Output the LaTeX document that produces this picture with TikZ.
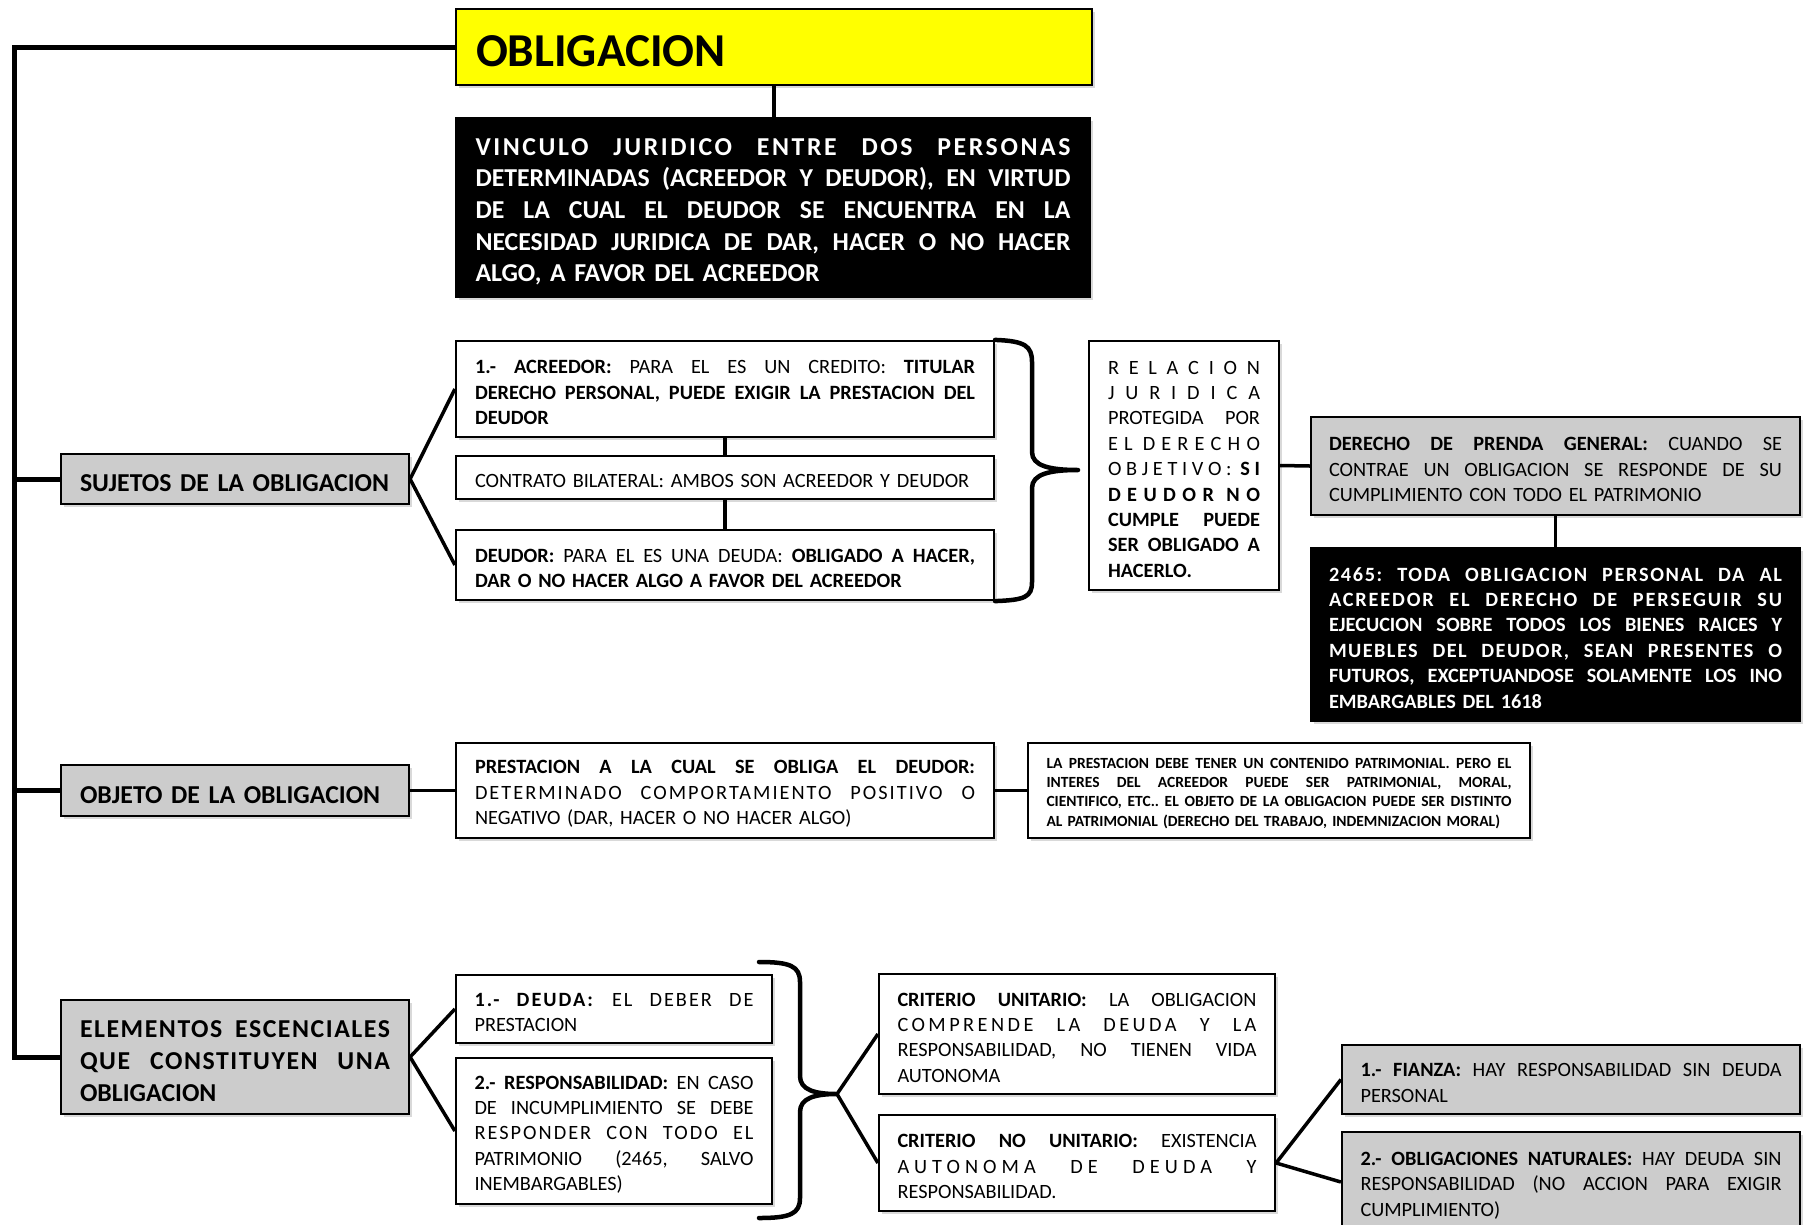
\documentclass[tikz,border=0pt]{standalone}
\usepackage{fontspec}
\setmainfont{Carlito}
\usetikzlibrary{shadows}
\definecolor{boxgray}{RGB}{204,204,204}
\definecolor{boxyellow}{RGB}{255,255,0}
\newcommand\boxW{500pt}
\newcommand\jline[1]{\leavevmode\hbox to\boxW{\spaceskip=0.226em plus 1fil\relax\xspaceskip=\spaceskip #1}}
\newcommand\tline[2]{\leavevmode\hbox to\boxW{\addfontfeature{LetterSpace=#1}\spaceskip=0.226em plus 1fil\relax\xspaceskip=\spaceskip #2}}
\tikzset{
  bx/.style={draw=black, line width=2.2pt, inner sep=0pt, align=left, fill=white,
    drop shadow={shadow xshift=2.5pt, shadow yshift=-2.5pt, opacity=0.3}},
  tw/.style={text width=#1pt, execute at begin node={\def\boxW{#1pt}}},
  graybx/.style={bx, fill=boxgray},
  blackbx/.style={bx, fill=black, text=white},
  body/.style={font=\fontsize{20.3}{25.4}\selectfont, execute at begin node={\rule{0pt}{20.5pt}}},
  bodyb/.style={font=\fontsize{20.3}{25.4}\selectfont\bfseries, execute at begin node={\rule{0pt}{20.5pt}}},
  bigb/.style={font=\fontsize{25.8}{31.7}\selectfont\bfseries, execute at begin node={\rule{0pt}{25.5pt}}},
  conn/.style={line width=3.5pt},
  trunk/.style={line width=5pt},
  bracepath/.style={line width=4.5pt, line cap=round, line join=round},
}
\begin{document}
\frenchspacing\hyphenpenalty=10000
\begin{tikzpicture}[x=1pt, y=-1pt]
\useasboundingbox (0,0) rectangle (1807,1224);

% --- top ---
\node[bx, fill=boxyellow, minimum width=636, minimum height=76, tw=596,
  font=\fontsize{47.2}{50}\selectfont\bfseries, execute at begin node={\rule{0pt}{39pt}}] (obl) at (774,47) {OBLIGACION};
\node[blackbx, bigb, minimum width=634, minimum height=179, tw=595] (def) at (773,207.5)
 {\tline{10}{VINCULO JURIDICO ENTRE DOS PERSONAS}\\
  \jline{DETERMINADAS (ACREEDOR Y DEUDOR), EN VIRTUD}\\
  \jline{DE LA CUAL EL DEUDOR SE ENCUENTRA EN LA}\\
  \jline{NECESIDAD JURIDICA DE DAR, HACER O NO HACER}\\
  ALGO, A FAVOR DEL ACREEDOR};

% --- sujetos ---
\node[graybx, bigb, minimum width=348, minimum height=50, tw=310] (suj) at (235,479)
 {\mbox{SUJETOS DE LA OBLIGACION}};
\node[bx, body, minimum width=538, minimum height=96, tw=500] (acr) at (725,389)
 {\jline{\textbf{1.- ACREEDOR:} PARA EL ES UN CREDITO: \textbf{TITULAR}}\\
  \jline{\textbf{DERECHO PERSONAL, PUEDE EXIGIR LA PRESTACION DEL}}\\
  \textbf{DEUDOR}};
\node[bx, body, minimum width=538, minimum height=43, tw=500] (con) at (725,477.5)
 {\mbox{CONTRATO BILATERAL: AMBOS SON ACREEDOR Y DEUDOR}};
\node[bx, body, minimum width=538, minimum height=70, tw=500] (deu) at (725,565)
 {\jline{\textbf{DEUDOR:} PARA EL ES UNA DEUDA: \textbf{OBLIGADO A HACER,}}\\
  \textbf{DAR O NO HACER ALGO A FAVOR DEL ACREEDOR}};
\node[bx, body, minimum width=190, minimum height=249, tw=152] (rel) at (1184,465.5)
 {\jline{R\hfil E\hfil L\hfil A\hfil C\hfil I\hfil O\hfil N}\\
  \jline{J\hfil U\hfil R\hfil I\hfil D\hfil I\hfil C\hfil A}\\
  \jline{PROTEGIDA POR}\\
  \jline{E\hfil L\hfil\hskip 4pt D\hfil E\hfil R\hfil E\hfil C\hfil H\hfil O}\\
  \jline{O\hfil B\hfil J\hfil E\hfil T\hfil I\hfil V\hfil O\hfil :\hfil\hskip 4pt\textbf{S\hfil I}}\\
  \jline{\textbf{D\hfil E\hfil U\hfil D\hfil O\hfil R\hfil\hskip 6pt N\hfil O}}\\
  \jline{\textbf{CUMPLE PUEDE}}\\
  \jline{\textbf{SER OBLIGADO A}}\\
  \textbf{HACERLO.}};
\node[graybx, body, minimum width=489, minimum height=98, tw=453] (pre) at (1555.5,466)
 {\jline{\textbf{DERECHO DE PRENDA GENERAL:} CUANDO SE}\\
  \jline{CONTRAE UN OBLIGACION SE RESPONDE DE SU}\\
  CUMPLIMIENTO CON TODO EL PATRIMONIO};
\node[blackbx, bodyb, minimum width=489, minimum height=173, tw=453] (art) at (1555.5,634.5)
 {\tline{8}{2465: TODA OBLIGACION PERSONAL DA AL}\\
  \tline{9}{ACREEDOR EL DERECHO DE PERSEGUIR SU}\\
  \jline{EJECUCION SOBRE TODOS LOS BIENES RAICES Y}\\
  \tline{7}{MUEBLES DEL DEUDOR, SEAN PRESENTES O}\\
  \jline{FUTUROS, EXCEPTUANDOSE SOLAMENTE LOS INO}\\
  EMBARGABLES DEL 1618};

% --- objeto ---
\node[graybx, bigb, minimum width=348, minimum height=51, tw=310] (obj) at (235,790.5)
 {\mbox{OBJETO DE LA OBLIGACION}};
\node[bx, body, minimum width=538, minimum height=95, tw=500] (prest) at (725,790.5)
 {\jline{\textbf{PRESTACION A LA CUAL SE OBLIGA EL DEUDOR:}}\\
  \tline{10}{DETERMINADO COMPORTAMIENTO POSITIVO O}\\
  NEGATIVO (DAR, HACER O NO HACER ALGO)};
\node[bx, font=\fontsize{15.5}{19.2}\selectfont\bfseries, execute at begin node={\rule{0pt}{16pt}},
  minimum width=502, minimum height=95, tw=465] (pat) at (1279,790.5)
 {\jline{LA PRESTACION DEBE TENER UN CONTENIDO PATRIMONIAL. PERO EL}\\
  \jline{INTERES DEL ACREEDOR PUEDE SER PATRIMONIAL, MORAL,}\\
  \jline{CIENTIFICO, ETC.. EL OBJETO DE LA OBLIGACION PUEDE SER DISTINTO}\\
  AL PATRIMONIAL (DERECHO DEL TRABAJO, INDEMNIZACION MORAL)};

% --- elementos ---
\node[graybx, bigb, minimum width=348, minimum height=114, tw=310] (ele) at (235,1057)
 {\tline{6}{ELEMENTOS ESCENCIALES}\\
  \tline{6}{QUE CONSTITUYEN UNA}\\
  OBLIGACION};
\node[bx, body, minimum width=316, minimum height=68, tw=279] (dda) at (614,1009)
 {\tline{10}{\textbf{1.- DEUDA:} EL DEBER DE}\\
  PRESTACION};
\node[bx, body, minimum width=316, minimum height=146, tw=279] (res) at (614,1131)
 {\jline{\textbf{2.- RESPONSABILIDAD:} EN CASO}\\
  \jline{DE INCUMPLIMIENTO SE DEBE}\\
  \tline{10}{RESPONDER CON TODO EL}\\
  \jline{PATRIMONIO (2465, SALVO}\\
  INEMBARGABLES)};
\node[bx, body, minimum width=396, minimum height=120, tw=359] (cu) at (1077,1034)
 {\jline{\textbf{CRITERIO UNITARIO:} LA OBLIGACION}\\
  \tline{17}{COMPRENDE LA DEUDA Y LA}\\
  \jline{RESPONSABILIDAD, NO TIENEN VIDA}\\
  AUTONOMA};
\node[bx, body, minimum width=396, minimum height=96, tw=359] (cnu) at (1077,1163)
 {\jline{\textbf{CRITERIO NO UNITARIO:} EXISTENCIA}\\
  \tline{25}{AUTONOMA DE DEUDA Y}\\
  RESPONSABILIDAD.};
\node[graybx, body, minimum width=458, minimum height=69, tw=421] (fia) at (1571,1079.5)
 {\jline{\textbf{1.- FIANZA:} HAY RESPONSABILIDAD SIN DEUDA}\\
  PERSONAL};
\node[graybx, body, minimum width=458, minimum height=100, tw=421] (nat) at (1571,1182)
 {\jline{\textbf{2.- OBLIGACIONES NATURALES:} HAY DEUDA SIN}\\
  \jline{RESPONSABILIDAD (NO ACCION PARA EXIGIR}\\
  CUMPLIMIENTO)};

% --- connectors ---
\coordinate (tTop) at (14,47);
\coordinate (tBot) at (14,1057);
\draw[trunk] (obl.west) -- (tTop) -- (tBot) -- (ele.west);
\draw[trunk] (tTop |- suj.west) -- (suj.west);
\draw[trunk] (tTop |- obj.west) -- (obj.west);
\draw[conn] (obl.south) -- (obl.south |- def.north);

\draw[conn] (suj.east) -- (acr.west);
\draw[conn] (suj.east) -- (deu.west);
\draw[conn] (acr.south) -- (con.north);
\draw[conn] (con.south) -- (deu.north);

\coordinate (b1tip) at (1078,470);
\draw[bracepath] (acr.north east) .. controls (1025,341) and (1032,346) .. (1032,362)
  -- (1032,452) .. controls (1032,466) and (1050,470) .. (b1tip)
  .. controls (1050,470) and (1032,474) .. (1032,488)
  -- (1032,582) .. controls (1032,597) and (1025,600) .. (deu.south east);

\draw[conn] (rel.east) -- (pre.west);
\draw[conn] (pre.south) -- (pre.south |- art.north);

\draw[conn] (obj.east) -- (prest.west);
\draw[conn] (prest.east) -- (pat.west);

\draw[conn] (ele.east) -- (dda.west);
\draw[conn] (ele.east) -- (res.west);

\coordinate (b2t) at (759,962);
\coordinate (b2b) at (759,1218);
\coordinate (b2tip) at (837,1094);
\draw[bracepath] (b2t) .. controls (790,962) and (800,966) .. (800,982)
  -- (800,1076) .. controls (800,1090) and (815,1094) .. (b2tip)
  .. controls (815,1094) and (800,1098) .. (800,1112)
  -- (800,1198) .. controls (800,1214) and (790,1218) .. (b2b);
\draw[conn] (b2tip) -- (cu.west);
\draw[conn] (b2tip) -- (cnu.west);

\draw[conn] (cnu.east) -- (fia.west);
\draw[conn] (cnu.east) -- (nat.west);
\end{tikzpicture}
\end{document}
